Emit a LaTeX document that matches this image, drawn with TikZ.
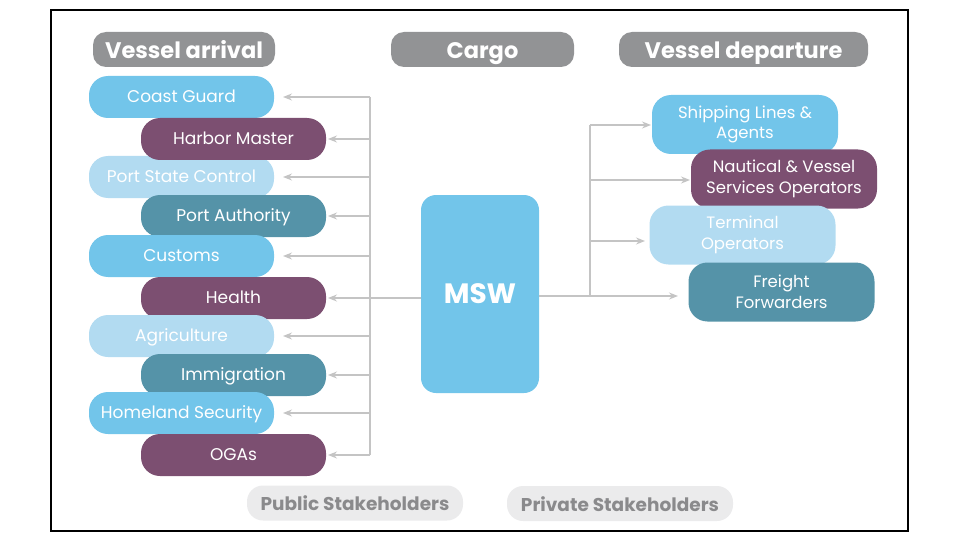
\documentclass[tikz,border=0pt]{standalone}
\usepackage{fontspec}
\setmainfont{Poppins}
\usetikzlibrary{arrows.meta}
\definecolor{cblue}{HTML}{72C5EA}
\definecolor{cpale}{HTML}{B2DBF1}
\definecolor{cpurple}{HTML}{7C4F71}
\definecolor{cteal}{HTML}{5593A8}
\definecolor{chead}{HTML}{929395}
\definecolor{cline}{HTML}{C4C4C4}
\definecolor{cstake}{HTML}{EBEBEC}
\definecolor{cstaketext}{HTML}{8A8A8C}
\tikzset{
  pill/.style={rounded corners=19pt, text=white, align=center, inner sep=0pt, font=\fontsize{17}{17}\selectfont},
  lpill/.style={pill, minimum width=185pt, minimum height=42pt, text height=13pt, text depth=2pt},
  rpill/.style={pill, minimum width=186pt, minimum height=59pt, font=\fontsize{16.5}{20.5}\selectfont},
  head/.style={rounded corners=13pt, fill=chead, text=white, inner sep=0pt, minimum height=35pt, text height=18pt, text depth=0pt, font=\fontsize{22.5}{22.5}\selectfont\bfseries},
  stake/.style={rounded corners=16pt, fill=cstake, text=cstaketext, inner sep=0pt, minimum height=35pt, text height=15pt, text depth=0pt, font=\fontsize{18.5}{18.5}\selectfont\bfseries},
  conn/.style={draw=cline, line width=1.2pt},
  arr/.style={conn, -{Stealth[length=9pt, width=7pt, inset=3pt]}}
}
\begin{document}
\begin{tikzpicture}[x=1pt, y=-1pt]
\useasboundingbox (0,0) rectangle (960,540);
\draw[line width=2pt] (51,10) rectangle (908,531);
% headers
\node[head, minimum width=182pt] (h1) at (184,49.5) {Vessel arrival};
\node[head, minimum width=183pt] (h2) at (482.5,49.5) {Cargo};
\node[head, minimum width=249pt] (h3) at (743.5,49.5) {Vessel departure};
% left pills
\node[lpill, fill=cblue] (cg) at (181.5,97) {Coast Guard};
\node[lpill, fill=cpale] (psc) at (181.5,177) {Port State Control};
\node[lpill, fill=cpurple] (hm) at (233.5,139) {Harbor Master};
\node[lpill, fill=cteal] (pa) at (233.5,216) {Port Authority};
\node[lpill, fill=cblue] (cu) at (181.5,256) {Customs};
\node[lpill, fill=cpurple] (he) at (233.5,298) {Health};
\node[lpill, fill=cpale] (ag) at (181.5,336) {Agriculture};
\node[lpill, fill=cteal] (im) at (233.5,375) {Immigration};
\node[lpill, fill=cblue] (hs) at (181.5,413) {Homeland Security};
\node[lpill, fill=cpurple] (og) at (233.5,455) {OGAs};
% MSW
\node[rounded corners=15pt, fill=cblue, text=white, minimum width=118pt, minimum height=198pt, font=\fontsize{28}{28}\selectfont\bfseries] (msw) at (480,294) {MSW};
% right pills
\node[rpill, fill=cblue] (sl) at (745,124.5) {Shipping Lines \&\\Agents};
\node[rpill, fill=cpurple] (nv) at (784,179) {Nautical \& Vessel\\Services Operators};
\node[rpill, fill=cpale] (to) at (742.5,235) {Terminal\\Operators};
\node[rpill, fill=cteal] (ff) at (781.5,292) {Freight\\Forwarders};
% stakeholders
\node[stake, minimum width=216pt] (pub) at (355,503) {Public Stakeholders};
\node[stake, minimum width=226pt] (pri) at (620,503.5) {Private Stakeholders};
% connectors left
\coordinate (jl) at (370,298);
\coordinate (jt) at (370,97);
\coordinate (jb) at (370,455);
\draw[conn] (msw.west |- jl) -- (jl);
\draw[conn] (jt) -- (jb);
\draw[arr] (jt) -- (283,97);
\draw[arr] (370,139) -- (328,139);
\draw[arr] (370,177) -- (283,177);
\draw[arr] (370,216) -- (328,216);
\draw[arr] (370,256) -- (283,256);
\draw[arr] (jl) -- (328,298);
\draw[arr] (370,336) -- (283,336);
\draw[arr] (370,375) -- (328,375);
\draw[arr] (370,413) -- (283,413);
\draw[arr] (jb) -- (328,455);
% connectors right
\coordinate (jr) at (590,296);
\coordinate (jrt) at (590,125);
\draw[conn] (msw.east |- jr) -- (jr);
\draw[conn] (jrt) -- (jr);
\draw[arr] (jrt) -- (651,125);
\draw[arr] (590,180) -- (690,180);
\draw[arr] (590,241) -- (645,241);
\draw[arr] (jr) -- (678,296);
\end{tikzpicture}
\end{document}
